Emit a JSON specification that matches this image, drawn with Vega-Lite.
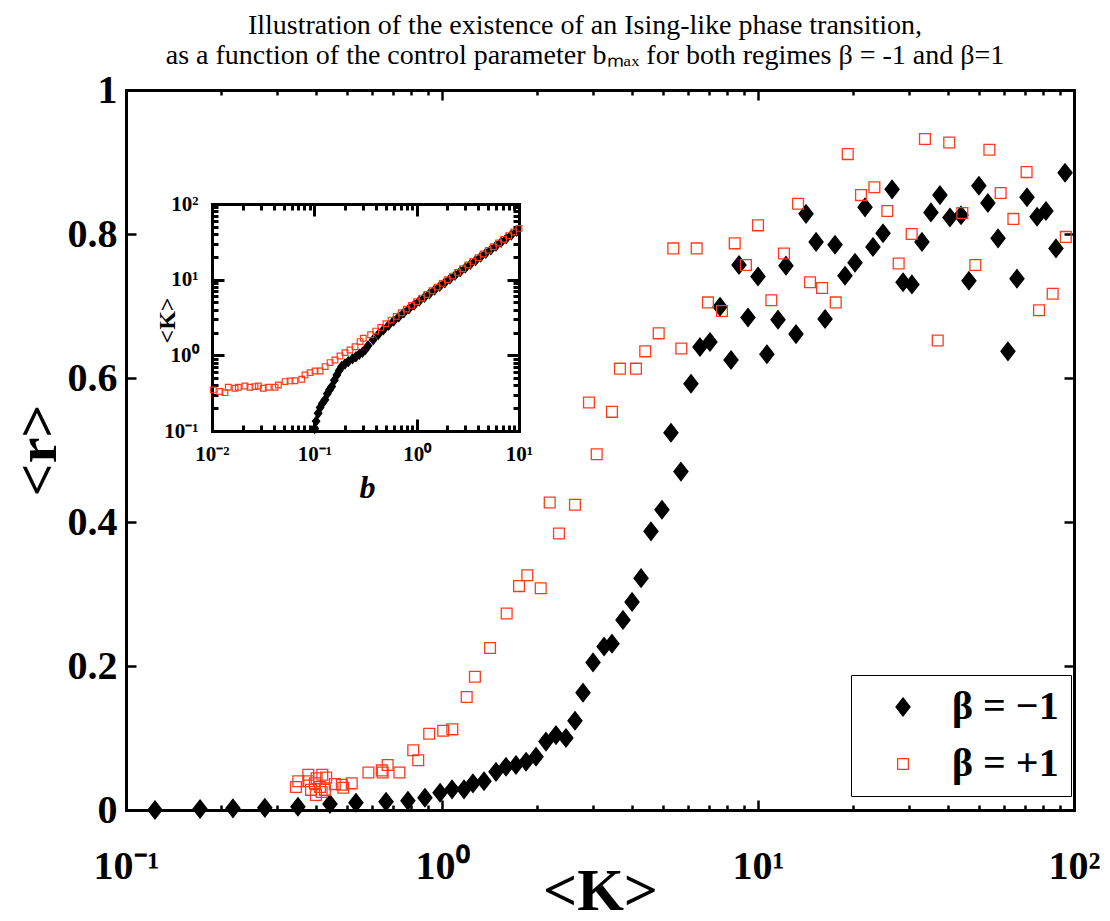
{
  "$schema": "https://vega.github.io/schema/vega-lite/v6.json",
  "width": 948,
  "height": 720,
  "autosize": {"type": "none"},
  "padding": {"left": 126, "top": 90, "right": 36, "bottom": 111},
  "background": "white",
  "title": {
    "text": ["Illustration of the existence of an Ising-like phase transition,", "as a function of the control parameter bₘₐₓ for both regimes β = -1 and β=1"],
    "font": "Liberation Serif",
    "fontSize": 28,
    "fontWeight": "normal",
    "color": "black",
    "anchor": "middle",
    "frame": "group",
    "dx": -15,
    "offset": 0,
    "lineHeight": 30
  },
  "config": {
    "view": {"stroke": null},
    "axis": {
      "labelFont": "Liberation Serif",
      "labelFontWeight": "bold",
      "labelColor": "black",
      "titleFont": "Liberation Serif",
      "titleFontWeight": "bold",
      "titleColor": "black",
      "tickColor": "black",
      "domainColor": "black",
      "domainWidth": 3,
      "domainCap": "square",
      "tickWidth": 2.5,
      "grid": false,
      "labelFlush": false,
      "labelOverlap": false,
      "labelBound": false
    },
    "legend": {
      "orient": "none",
      "legendX": 725,
      "legendY": 585,
      "padding": 12,
      "strokeColor": "black",
      "strokeWidth": 1,
      "fillColor": "white",
      "labelFont": "Liberation Serif",
      "labelFontSize": 40,
      "labelFontWeight": "bold",
      "labelColor": "black",
      "labelLimit": 300,
      "symbolSize": 324,
      "symbolStrokeWidth": 1.3,
      "symbolOffset": 20,
      "labelOffset": 29,
      "rowPadding": 17
    }
  },
  "datasets": {
    "main": [
      {"K": 0.1235, "r": 0.0, "series": "β = −1"},
      {"K": 0.1715, "r": 0.0014, "series": "β = −1"},
      {"K": 0.218, "r": 0.0023, "series": "β = −1"},
      {"K": 0.275, "r": 0.003, "series": "β = −1"},
      {"K": 0.35, "r": 0.0046, "series": "β = −1"},
      {"K": 0.442, "r": 0.0083, "series": "β = −1"},
      {"K": 0.534, "r": 0.0101, "series": "β = −1"},
      {"K": 0.665, "r": 0.0115, "series": "β = −1"},
      {"K": 0.78, "r": 0.0129, "series": "β = −1"},
      {"K": 0.883, "r": 0.0171, "series": "β = −1"},
      {"K": 0.986, "r": 0.024, "series": "β = −1"},
      {"K": 1.076, "r": 0.0287, "series": "β = −1"},
      {"K": 1.174, "r": 0.0287, "series": "β = −1"},
      {"K": 1.253, "r": 0.037, "series": "β = −1"},
      {"K": 1.358, "r": 0.04, "series": "β = −1"},
      {"K": 1.482, "r": 0.053, "series": "β = −1"},
      {"K": 1.594, "r": 0.06, "series": "β = −1"},
      {"K": 1.714, "r": 0.0625, "series": "β = −1"},
      {"K": 1.845, "r": 0.067, "series": "β = −1"},
      {"K": 1.984, "r": 0.074, "series": "β = −1"},
      {"K": 2.133, "r": 0.095, "series": "β = −1"},
      {"K": 2.295, "r": 0.104, "series": "β = −1"},
      {"K": 2.467, "r": 0.1, "series": "β = −1"},
      {"K": 2.635, "r": 0.124, "series": "β = −1"},
      {"K": 2.794, "r": 0.163, "series": "β = −1"},
      {"K": 3.006, "r": 0.205, "series": "β = −1"},
      {"K": 3.258, "r": 0.227, "series": "β = −1"},
      {"K": 3.451, "r": 0.231, "series": "β = −1"},
      {"K": 3.739, "r": 0.264, "series": "β = −1"},
      {"K": 3.994, "r": 0.289, "series": "β = −1"},
      {"K": 4.265, "r": 0.322, "series": "β = −1"},
      {"K": 4.585, "r": 0.387, "series": "β = −1"},
      {"K": 4.966, "r": 0.417, "series": "β = −1"},
      {"K": 5.303, "r": 0.524, "series": "β = −1"},
      {"K": 5.703, "r": 0.47, "series": "β = −1"},
      {"K": 6.136, "r": 0.592, "series": "β = −1"},
      {"K": 6.552, "r": 0.643, "series": "β = −1"},
      {"K": 7.046, "r": 0.65, "series": "β = −1"},
      {"K": 7.58, "r": 0.699, "series": "β = −1"},
      {"K": 8.216, "r": 0.625, "series": "β = −1"},
      {"K": 8.706, "r": 0.757, "series": "β = −1"},
      {"K": 9.295, "r": 0.684, "series": "β = −1"},
      {"K": 10.0, "r": 0.741, "series": "β = −1"},
      {"K": 10.67, "r": 0.633, "series": "β = −1"},
      {"K": 11.57, "r": 0.681, "series": "β = −1"},
      {"K": 12.26, "r": 0.756, "series": "β = −1"},
      {"K": 13.19, "r": 0.661, "series": "β = −1"},
      {"K": 14.19, "r": 0.828, "series": "β = −1"},
      {"K": 15.27, "r": 0.789, "series": "β = −1"},
      {"K": 16.3, "r": 0.682, "series": "β = −1"},
      {"K": 17.53, "r": 0.785, "series": "β = −1"},
      {"K": 18.85, "r": 0.742, "series": "β = −1"},
      {"K": 20.28, "r": 0.76, "series": "β = −1"},
      {"K": 21.81, "r": 0.837, "series": "β = −1"},
      {"K": 23.11, "r": 0.782, "series": "β = −1"},
      {"K": 24.87, "r": 0.801, "series": "β = −1"},
      {"K": 26.57, "r": 0.862, "series": "β = −1"},
      {"K": 28.77, "r": 0.733, "series": "β = −1"},
      {"K": 30.7, "r": 0.73, "series": "β = −1"},
      {"K": 33.03, "r": 0.789, "series": "β = −1"},
      {"K": 35.26, "r": 0.83, "series": "β = −1"},
      {"K": 37.65, "r": 0.854, "series": "β = −1"},
      {"K": 40.5, "r": 0.823, "series": "β = −1"},
      {"K": 43.9, "r": 0.826, "series": "β = −1"},
      {"K": 46.5, "r": 0.735, "series": "β = −1"},
      {"K": 50.0, "r": 0.867, "series": "β = −1"},
      {"K": 53.4, "r": 0.843, "series": "β = −1"},
      {"K": 57.5, "r": 0.794, "series": "β = −1"},
      {"K": 61.8, "r": 0.637, "series": "β = −1"},
      {"K": 66.0, "r": 0.738, "series": "β = −1"},
      {"K": 71.0, "r": 0.851, "series": "β = −1"},
      {"K": 76.4, "r": 0.824, "series": "β = −1"},
      {"K": 81.5, "r": 0.832, "series": "β = −1"},
      {"K": 87.7, "r": 0.78, "series": "β = −1"},
      {"K": 93.7, "r": 0.885, "series": "β = −1"},
      {"K": 0.345, "r": 0.032, "series": "β = +1"},
      {"K": 0.351, "r": 0.04, "series": "β = +1"},
      {"K": 0.3775, "r": 0.049, "series": "β = +1"},
      {"K": 0.3775, "r": 0.04, "series": "β = +1"},
      {"K": 0.385, "r": 0.028, "series": "β = +1"},
      {"K": 0.396, "r": 0.037, "series": "β = +1"},
      {"K": 0.401, "r": 0.044, "series": "β = +1"},
      {"K": 0.411, "r": 0.032, "series": "β = +1"},
      {"K": 0.399, "r": 0.021, "series": "β = +1"},
      {"K": 0.416, "r": 0.025, "series": "β = +1"},
      {"K": 0.418, "r": 0.049, "series": "β = +1"},
      {"K": 0.43, "r": 0.045, "series": "β = +1"},
      {"K": 0.426, "r": 0.028, "series": "β = +1"},
      {"K": 0.458, "r": 0.036, "series": "β = +1"},
      {"K": 0.482, "r": 0.035, "series": "β = +1"},
      {"K": 0.487, "r": 0.031, "series": "β = +1"},
      {"K": 0.518, "r": 0.037, "series": "β = +1"},
      {"K": 0.585, "r": 0.052, "series": "β = +1"},
      {"K": 0.645, "r": 0.055, "series": "β = +1"},
      {"K": 0.649, "r": 0.052, "series": "β = +1"},
      {"K": 0.673, "r": 0.0625, "series": "β = +1"},
      {"K": 0.733, "r": 0.052, "series": "β = +1"},
      {"K": 0.811, "r": 0.083, "series": "β = +1"},
      {"K": 0.841, "r": 0.069, "series": "β = +1"},
      {"K": 0.911, "r": 0.106, "series": "β = +1"},
      {"K": 1.009, "r": 0.11, "series": "β = +1"},
      {"K": 1.078, "r": 0.112, "series": "β = +1"},
      {"K": 1.197, "r": 0.157, "series": "β = +1"},
      {"K": 1.271, "r": 0.185, "series": "β = +1"},
      {"K": 1.419, "r": 0.225, "series": "β = +1"},
      {"K": 1.602, "r": 0.273, "series": "β = +1"},
      {"K": 1.753, "r": 0.311, "series": "β = +1"},
      {"K": 1.862, "r": 0.326, "series": "β = +1"},
      {"K": 2.053, "r": 0.308, "series": "β = +1"},
      {"K": 2.192, "r": 0.427, "series": "β = +1"},
      {"K": 2.345, "r": 0.384, "series": "β = +1"},
      {"K": 2.635, "r": 0.424, "series": "β = +1"},
      {"K": 2.918, "r": 0.566, "series": "β = +1"},
      {"K": 3.087, "r": 0.494, "series": "β = +1"},
      {"K": 3.451, "r": 0.553, "series": "β = +1"},
      {"K": 3.657, "r": 0.613, "series": "β = +1"},
      {"K": 4.11, "r": 0.613, "series": "β = +1"},
      {"K": 4.397, "r": 0.637, "series": "β = +1"},
      {"K": 4.85, "r": 0.662, "series": "β = +1"},
      {"K": 5.395, "r": 0.78, "series": "β = +1"},
      {"K": 5.719, "r": 0.641, "series": "β = +1"},
      {"K": 6.397, "r": 0.78, "series": "β = +1"},
      {"K": 6.945, "r": 0.705, "series": "β = +1"},
      {"K": 7.69, "r": 0.693, "series": "β = +1"},
      {"K": 8.44, "r": 0.787, "series": "β = +1"},
      {"K": 9.16, "r": 0.757, "series": "β = +1"},
      {"K": 10.0, "r": 0.812, "series": "β = +1"},
      {"K": 11.02, "r": 0.708, "series": "β = +1"},
      {"K": 12.08, "r": 0.773, "series": "β = +1"},
      {"K": 13.39, "r": 0.842, "series": "β = +1"},
      {"K": 14.61, "r": 0.733, "series": "β = +1"},
      {"K": 15.95, "r": 0.725, "series": "β = +1"},
      {"K": 17.62, "r": 0.705, "series": "β = +1"},
      {"K": 19.23, "r": 0.911, "series": "β = +1"},
      {"K": 21.18, "r": 0.854, "series": "β = +1"},
      {"K": 23.35, "r": 0.865, "series": "β = +1"},
      {"K": 25.66, "r": 0.832, "series": "β = +1"},
      {"K": 27.87, "r": 0.759, "series": "β = +1"},
      {"K": 30.64, "r": 0.8, "series": "β = +1"},
      {"K": 33.75, "r": 0.932, "series": "β = +1"},
      {"K": 37.04, "r": 0.652, "series": "β = +1"},
      {"K": 40.28, "r": 0.927, "series": "β = +1"},
      {"K": 44.32, "r": 0.829, "series": "β = +1"},
      {"K": 48.73, "r": 0.757, "series": "β = +1"},
      {"K": 53.98, "r": 0.917, "series": "β = +1"},
      {"K": 58.6, "r": 0.857, "series": "β = +1"},
      {"K": 64.3, "r": 0.821, "series": "β = +1"},
      {"K": 70.8, "r": 0.886, "series": "β = +1"},
      {"K": 77.5, "r": 0.694, "series": "β = +1"},
      {"K": 85.6, "r": 0.717, "series": "β = +1"},
      {"K": 94.2, "r": 0.796, "series": "β = +1"}
    ],
    "inset": [
      {"b": 0.101, "K": 0.108, "series": "β = −1"},
      {"b": 0.104, "K": 0.135, "series": "β = −1"},
      {"b": 0.109, "K": 0.172, "series": "β = −1"},
      {"b": 0.114, "K": 0.205, "series": "β = −1"},
      {"b": 0.12, "K": 0.232, "series": "β = −1"},
      {"b": 0.127, "K": 0.258, "series": "β = −1"},
      {"b": 0.134, "K": 0.31, "series": "β = −1"},
      {"b": 0.141, "K": 0.35, "series": "β = −1"},
      {"b": 0.148, "K": 0.386, "series": "β = −1"},
      {"b": 0.157, "K": 0.47, "series": "β = −1"},
      {"b": 0.166, "K": 0.551, "series": "β = −1"},
      {"b": 0.175, "K": 0.63, "series": "β = −1"},
      {"b": 0.185, "K": 0.71, "series": "β = −1"},
      {"b": 0.199, "K": 0.77, "series": "β = −1"},
      {"b": 0.215, "K": 0.826, "series": "β = −1"},
      {"b": 0.236, "K": 0.9, "series": "β = −1"},
      {"b": 0.255, "K": 0.96, "series": "β = −1"},
      {"b": 0.275, "K": 1.03, "series": "β = −1"},
      {"b": 0.295, "K": 1.1, "series": "β = −1"},
      {"b": 0.313, "K": 1.18, "series": "β = −1"},
      {"b": 0.335, "K": 1.34, "series": "β = −1"},
      {"b": 0.376, "K": 1.61, "series": "β = −1"},
      {"b": 0.422, "K": 1.88, "series": "β = −1"},
      {"b": 0.473, "K": 2.18, "series": "β = −1"},
      {"b": 0.531, "K": 2.49, "series": "β = −1"},
      {"b": 0.596, "K": 2.85, "series": "β = −1"},
      {"b": 0.668, "K": 3.22, "series": "β = −1"},
      {"b": 0.75, "K": 3.65, "series": "β = −1"},
      {"b": 0.841, "K": 4.12, "series": "β = −1"},
      {"b": 0.944, "K": 4.61, "series": "β = −1"},
      {"b": 1.059, "K": 5.21, "series": "β = −1"},
      {"b": 1.189, "K": 5.83, "series": "β = −1"},
      {"b": 1.334, "K": 6.52, "series": "β = −1"},
      {"b": 1.496, "K": 7.29, "series": "β = −1"},
      {"b": 1.679, "K": 8.15, "series": "β = −1"},
      {"b": 1.884, "K": 9.12, "series": "β = −1"},
      {"b": 2.113, "K": 10.19, "series": "β = −1"},
      {"b": 2.371, "K": 11.4, "series": "β = −1"},
      {"b": 2.661, "K": 12.74, "series": "β = −1"},
      {"b": 2.985, "K": 14.26, "series": "β = −1"},
      {"b": 3.35, "K": 15.93, "series": "β = −1"},
      {"b": 3.758, "K": 17.82, "series": "β = −1"},
      {"b": 4.217, "K": 19.91, "series": "β = −1"},
      {"b": 4.732, "K": 22.28, "series": "β = −1"},
      {"b": 5.309, "K": 24.89, "series": "β = −1"},
      {"b": 5.957, "K": 27.86, "series": "β = −1"},
      {"b": 6.683, "K": 31.12, "series": "β = −1"},
      {"b": 7.499, "K": 34.83, "series": "β = −1"},
      {"b": 8.414, "K": 38.9, "series": "β = −1"},
      {"b": 9.441, "K": 43.55, "series": "β = −1"},
      {"b": 0.0103, "K": 0.349, "series": "β = +1"},
      {"b": 0.01197, "K": 0.332, "series": "β = +1"},
      {"b": 0.01337, "K": 0.321, "series": "β = +1"},
      {"b": 0.01443, "K": 0.379, "series": "β = +1"},
      {"b": 0.0168, "K": 0.367, "series": "β = +1"},
      {"b": 0.0181, "K": 0.379, "series": "β = +1"},
      {"b": 0.021, "K": 0.394, "series": "β = +1"},
      {"b": 0.0235, "K": 0.379, "series": "β = +1"},
      {"b": 0.0263, "K": 0.386, "series": "β = +1"},
      {"b": 0.0284, "K": 0.394, "series": "β = +1"},
      {"b": 0.0317, "K": 0.367, "series": "β = +1"},
      {"b": 0.0355, "K": 0.379, "series": "β = +1"},
      {"b": 0.0413, "K": 0.379, "series": "β = +1"},
      {"b": 0.0445, "K": 0.406, "series": "β = +1"},
      {"b": 0.0518, "K": 0.45, "series": "β = +1"},
      {"b": 0.0579, "K": 0.459, "series": "β = +1"},
      {"b": 0.0647, "K": 0.462, "series": "β = +1"},
      {"b": 0.0753, "K": 0.483, "series": "β = +1"},
      {"b": 0.0811, "K": 0.551, "series": "β = +1"},
      {"b": 0.0908, "K": 0.59, "series": "β = +1"},
      {"b": 0.1016, "K": 0.622, "series": "β = +1"},
      {"b": 0.1138, "K": 0.622, "series": "β = +1"},
      {"b": 0.1274, "K": 0.71, "series": "β = +1"},
      {"b": 0.1424, "K": 0.802, "series": "β = +1"},
      {"b": 0.159, "K": 0.869, "series": "β = +1"},
      {"b": 0.178, "K": 0.982, "series": "β = +1"},
      {"b": 0.1995, "K": 1.086, "series": "β = +1"},
      {"b": 0.223, "K": 1.178, "series": "β = +1"},
      {"b": 0.25, "K": 1.3, "series": "β = +1"},
      {"b": 0.28, "K": 1.52, "series": "β = +1"},
      {"b": 0.301, "K": 1.68, "series": "β = +1"},
      {"b": 0.355, "K": 1.868, "series": "β = +1"},
      {"b": 0.398, "K": 2.09, "series": "β = +1"},
      {"b": 0.447, "K": 2.34, "series": "β = +1"},
      {"b": 0.501, "K": 2.61, "series": "β = +1"},
      {"b": 0.562, "K": 2.92, "series": "β = +1"},
      {"b": 0.631, "K": 3.27, "series": "β = +1"},
      {"b": 0.708, "K": 3.65, "series": "β = +1"},
      {"b": 0.794, "K": 4.08, "series": "β = +1"},
      {"b": 0.891, "K": 4.57, "series": "β = +1"},
      {"b": 1.0, "K": 5.11, "series": "β = +1"},
      {"b": 1.122, "K": 5.71, "series": "β = +1"},
      {"b": 1.259, "K": 6.38, "series": "β = +1"},
      {"b": 1.413, "K": 7.14, "series": "β = +1"},
      {"b": 1.585, "K": 7.98, "series": "β = +1"},
      {"b": 1.778, "K": 8.92, "series": "β = +1"},
      {"b": 1.995, "K": 9.98, "series": "β = +1"},
      {"b": 2.239, "K": 11.15, "series": "β = +1"},
      {"b": 2.512, "K": 12.47, "series": "β = +1"},
      {"b": 2.818, "K": 13.95, "series": "β = +1"},
      {"b": 3.162, "K": 15.6, "series": "β = +1"},
      {"b": 3.548, "K": 17.44, "series": "β = +1"},
      {"b": 3.981, "K": 19.5, "series": "β = +1"},
      {"b": 4.467, "K": 21.8, "series": "β = +1"},
      {"b": 5.012, "K": 24.4, "series": "β = +1"},
      {"b": 5.623, "K": 27.3, "series": "β = +1"},
      {"b": 6.31, "K": 30.5, "series": "β = +1"},
      {"b": 7.079, "K": 34.1, "series": "β = +1"},
      {"b": 7.943, "K": 38.1, "series": "β = +1"},
      {"b": 8.913, "K": 42.6, "series": "β = +1"},
      {"b": 10.0, "K": 47.6, "series": "β = +1"}
    ]
  },
  "layer": [
    {
      "data": {"name": "main"},
      "mark": {"type": "point", "size": 324, "strokeWidth": 1.3, "opacity": 1},
      "encoding": {
        "x": {
          "field": "K", "type": "quantitative",
          "scale": {"type": "log", "domain": [0.1, 100], "nice": false},
          "axis": {
            "orient": "bottom", "values": [0.1, 1, 10, 100],
            "labelExpr": "datum.value < 0.5 ? '10⁻¹' : datum.value < 5 ? '10⁰' : datum.value < 50 ? '10¹' : '10²'",
            "labelFontSize": 40, "labelPadding": 46, "labelBaseline": "top",
            "tickSize": -10,
            "title": "<K>", "titleFontSize": 60, "titleX": 474, "titleY": 99,
            "titleAlign": "center", "titleBaseline": "alphabetic", "titleAngle": 0
          }
        },
        "y": {
          "field": "r", "type": "quantitative",
          "scale": {"domain": [0, 1], "nice": false, "zero": false},
          "axis": {
            "orient": "left", "values": [0, 0.2, 0.4, 0.6, 0.8, 1],
            "labelExpr": "datum.value == 0 ? '0' : datum.value == 1 ? '1' : format(datum.value, '.1f')",
            "labelFontSize": 40, "labelPadding": 19, "labelBaseline": "middle",
            "tickSize": -10,
            "title": "<r>", "titleFontSize": 58, "titleX": -71, "titleY": 360,
            "titleAlign": "center", "titleBaseline": "alphabetic", "titleAngle": 270
          }
        },
        "fill": {
          "field": "series", "type": "nominal",
          "scale": {"domain": ["β = −1", "β = +1"], "range": ["black", "transparent"]},
          "legend": {"title": null}
        },
        "stroke": {
          "field": "series", "type": "nominal",
          "scale": {"domain": ["β = −1", "β = +1"], "range": ["black", "#ff3b1c"]},
          "legend": {"title": null}
        },
        "shape": {
          "field": "series", "type": "nominal",
          "scale": {"domain": ["β = −1", "β = +1"], "range": ["M0,-1L0.78,0L0,1L-0.78,0Z", "M-0.6,-0.6L0.6,-0.6L0.6,0.6L-0.6,0.6Z"]},
          "legend": {"title": null}
        }
      }
    },
    {
      "data": {"name": "main"},
      "mark": {"type": "point", "opacity": 0},
      "encoding": {
        "x": {
          "field": "K", "type": "quantitative",
          "scale": {"type": "log", "domain": [0.1, 100], "nice": false},
          "axis": {"orient": "top", "values": [0.1, 1, 10, 100], "labels": false, "tickSize": -10, "title": null}
        },
        "y": {
          "field": "r", "type": "quantitative",
          "scale": {"domain": [0, 1], "nice": false, "zero": false},
          "axis": {"orient": "right", "values": [0, 0.2, 0.4, 0.6, 0.8, 1], "labels": false, "tickSize": -10, "title": null}
        }
      }
    },
    {
      "data": {"name": "main"},
      "mark": {"type": "point", "opacity": 0},
      "encoding": {
        "x": {
          "field": "K", "type": "quantitative",
          "scale": {"type": "log", "domain": [0.1, 100], "nice": false},
          "axis": {"orient": "bottom", "values": [0.2, 0.3, 0.4, 0.5, 0.6, 0.7, 0.8, 0.9, 2, 3, 4, 5, 6, 7, 8, 9, 20, 30, 40, 50, 60, 70, 80, 90], "labels": false, "domain": false, "tickSize": -5, "title": null}
        },
        "y": {
          "field": "r", "type": "quantitative",
          "scale": {"domain": [0, 1], "nice": false, "zero": false},
          "axis": null
        }
      }
    },
    {
      "data": {"name": "main"},
      "mark": {"type": "point", "opacity": 0},
      "encoding": {
        "x": {
          "field": "K", "type": "quantitative",
          "scale": {"type": "log", "domain": [0.1, 100], "nice": false},
          "axis": {"orient": "top", "values": [0.2, 0.3, 0.4, 0.5, 0.6, 0.7, 0.8, 0.9, 2, 3, 4, 5, 6, 7, 8, 9, 20, 30, 40, 50, 60, 70, 80, 90], "labels": false, "domain": false, "tickSize": -5, "title": null}
        },
        "y": {
          "field": "r", "type": "quantitative",
          "scale": {"domain": [0, 1], "nice": false, "zero": false},
          "axis": null
        }
      }
    },
    {
      "data": {"name": "inset"},
      "mark": {"type": "point", "size": 90, "strokeWidth": 1.2, "opacity": 1},
      "encoding": {
        "x": {
          "field": "b", "type": "quantitative",
          "scale": {"type": "log", "domain": [0.01, 10], "range": [86, 393], "nice": false},
          "axis": {
            "orient": "bottom", "offset": -379, "values": [0.01, 0.1, 1, 10],
            "labelExpr": "datum.value < 0.05 ? '10⁻²' : datum.value < 0.5 ? '10⁻¹' : datum.value < 5 ? '10⁰' : '10¹'",
            "labelFontSize": 21, "labelPadding": 24, "labelBaseline": "top",
            "tickSize": -12, "tickWidth": 3,
            "title": "b", "titleFontSize": 32, "titleFontStyle": "italic", "titleX": 241, "titleY": 66,
            "titleAlign": "center", "titleBaseline": "alphabetic", "titleAngle": 0
          }
        },
        "y": {
          "field": "K", "type": "quantitative",
          "scale": {"type": "log", "domain": [0.1, 100], "range": [341, 114], "nice": false},
          "axis": {
            "orient": "left", "offset": -86, "values": [0.1, 1, 10, 100],
            "labelExpr": "datum.value < 0.5 ? '10⁻¹' : datum.value < 5 ? '10⁰' : datum.value < 50 ? '10¹' : '10²'",
            "labelFontSize": 21, "labelPadding": 26, "labelBaseline": "middle",
            "tickSize": -12, "tickWidth": 3,
            "title": "<K>", "titleFontSize": 24, "titleX": -38, "titleY": 230,
            "titleAlign": "center", "titleBaseline": "alphabetic", "titleAngle": 270
          }
        },
        "fill": {"field": "series", "type": "nominal", "legend": {"title": null}},
        "stroke": {"field": "series", "type": "nominal", "legend": {"title": null}},
        "shape": {"field": "series", "type": "nominal", "legend": {"title": null}}
      }
    },
    {
      "data": {"name": "inset"},
      "mark": {"type": "point", "opacity": 0},
      "encoding": {
        "x": {
          "field": "b", "type": "quantitative",
          "scale": {"type": "log", "domain": [0.01, 10], "range": [86, 393], "nice": false},
          "axis": {"orient": "top", "offset": -114, "values": [0.01, 0.1, 1, 10], "labels": false, "tickSize": -12, "tickWidth": 3, "title": null}
        },
        "y": {
          "field": "K", "type": "quantitative",
          "scale": {"type": "log", "domain": [0.1, 100], "range": [341, 114], "nice": false},
          "axis": {"orient": "right", "offset": -555, "values": [0.1, 1, 10, 100], "labels": false, "tickSize": -12, "tickWidth": 3, "title": null}
        }
      }
    },
    {
      "data": {"name": "inset"},
      "mark": {"type": "point", "opacity": 0},
      "encoding": {
        "x": {
          "field": "b", "type": "quantitative",
          "scale": {"type": "log", "domain": [0.01, 10], "range": [86, 393], "nice": false},
          "axis": {"orient": "bottom", "offset": -379, "values": [0.02, 0.03, 0.04, 0.05, 0.06, 0.07, 0.08, 0.09, 0.2, 0.3, 0.4, 0.5, 0.6, 0.7, 0.8, 0.9, 2, 3, 4, 5, 6, 7, 8, 9], "labels": false, "domain": false, "tickSize": -6, "tickWidth": 3, "title": null}
        },
        "y": {
          "field": "K", "type": "quantitative",
          "scale": {"type": "log", "domain": [0.1, 100], "range": [341, 114], "nice": false},
          "axis": {"orient": "left", "offset": -86, "values": [0.2, 0.3, 0.4, 0.5, 0.6, 0.7, 0.8, 0.9, 2, 3, 4, 5, 6, 7, 8, 9, 20, 30, 40, 50, 60, 70, 80, 90], "labels": false, "domain": false, "tickSize": -6, "tickWidth": 3, "title": null}
        }
      }
    },
    {
      "data": {"name": "inset"},
      "mark": {"type": "point", "opacity": 0},
      "encoding": {
        "x": {
          "field": "b", "type": "quantitative",
          "scale": {"type": "log", "domain": [0.01, 10], "range": [86, 393], "nice": false},
          "axis": {"orient": "top", "offset": -114, "values": [0.02, 0.03, 0.04, 0.05, 0.06, 0.07, 0.08, 0.09, 0.2, 0.3, 0.4, 0.5, 0.6, 0.7, 0.8, 0.9, 2, 3, 4, 5, 6, 7, 8, 9], "labels": false, "domain": false, "tickSize": -6, "tickWidth": 3, "title": null}
        },
        "y": {
          "field": "K", "type": "quantitative",
          "scale": {"type": "log", "domain": [0.1, 100], "range": [341, 114], "nice": false},
          "axis": {"orient": "right", "offset": -555, "values": [0.2, 0.3, 0.4, 0.5, 0.6, 0.7, 0.8, 0.9, 2, 3, 4, 5, 6, 7, 8, 9, 20, 30, 40, 50, 60, 70, 80, 90], "labels": false, "domain": false, "tickSize": -6, "tickWidth": 3, "title": null}
        }
      }
    }
  ],
  "resolve": {"scale": {"x": "independent", "y": "independent"}}
}
